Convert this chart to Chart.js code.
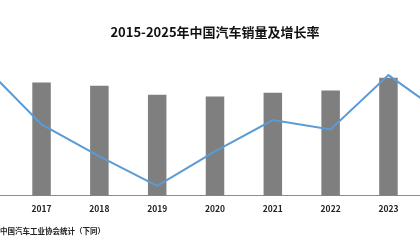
<!DOCTYPE html>
<html>
<head>
<meta charset="utf-8">
<script src="https://cdn.jsdelivr.net/npm/chart.js@4"></script>
<style>
  html, body { margin:0; padding:0; width:420px; height:240px; overflow:hidden; background:#fff; }
  #wrap { position:absolute; left:-103px; top:0; width:636px; height:240px; }
  #source { position:absolute; left:0; top:225px; font:bold 7.5px "Noto Sans CJK SC", sans-serif; color:#222; white-space:nowrap; }
</style>
</head>
<body>
<div id="wrap"><canvas id="chart" width="636" height="240"></canvas></div>
<div id="source">中国汽车工业协会统计（下同）</div>
<script>
const years = ["2015","2016","2017","2018","2019","2020","2021","2022","2023","2024","2025"];
// 汽车销量（万辆）
const sales = [2460, 2803, 2888, 2808, 2577, 2531, 2628, 2686, 3009, 3144, 3440];
// 增长率（%）
const growth = [4.7, 13.7, 3.0, -2.8, -8.2, -1.9, 3.8, 2.1, 12.0, 4.5, 9.4];

const font = '"Noto Sans CJK SC", "Noto Sans", sans-serif';

new Chart(document.getElementById("chart"), {
  type: "bar",
  data: {
    labels: years,
    datasets: [
      {
        type: "line",
        label: "增长率",
        data: growth,
        yAxisID: "y1",
        borderColor: "#5b9bd5",
        borderWidth: 2,
        pointRadius: 0,
        tension: 0,
        order: 0
      },
      {
        label: "销量",
        data: sales,
        yAxisID: "y",
        backgroundColor: "#7f7f7f",
        barPercentage: 0.32,
        categoryPercentage: 1,
        order: 1
      }
    ]
  },
  options: {
    responsive: false,
    animation: false,
    layout: { padding: { top: 0, bottom: 26, left: 0, right: 0 } },
    plugins: {
      legend: { display: false },
      tooltip: { enabled: false },
      title: {
        display: true,
        text: "2015-2025年中国汽车销量及增长率",
        color: "#111",
        font: { family: font, size: 13, weight: "bold" },
        padding: { top: 24, bottom: 19 }
      }
    },
    scales: {
      x: {
        grid: { display: false },
        border: { display: true, color: "#8c8c8c", width: 1 },
        ticks: { color: "#222", padding: 0, font: { family: font, size: 8.5, weight: "bold" } }
      },
      y: { display: false, min: 0, max: 3500 },
      y1: { display: false, min: -10, max: 15 }
    }
  }
});
</script>
</body>
</html>
